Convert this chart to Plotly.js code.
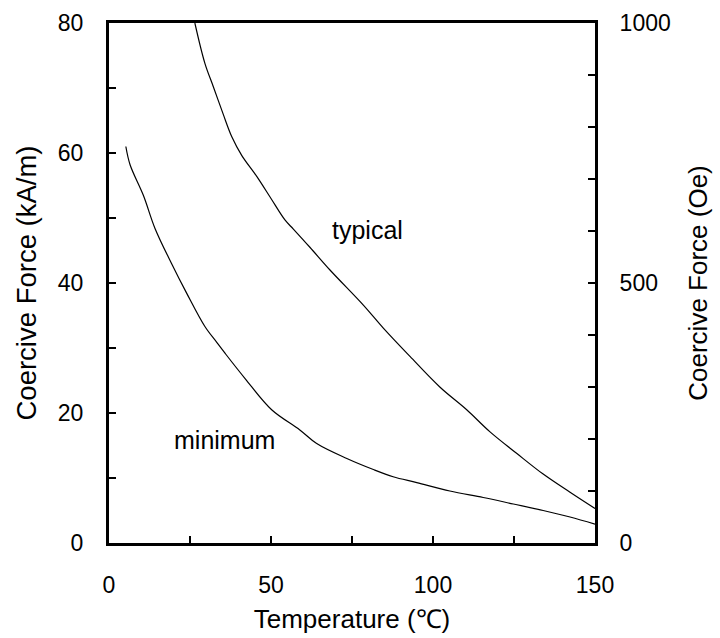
<!DOCTYPE html>
<html>
<head>
<meta charset="utf-8">
<script src="https://cdn.plot.ly/plotly-3.0.1.min.js"></script>
<style>html,body{margin:0;padding:0;background:#fff;}#chart{width:720px;height:638px;}</style>
</head>
<body>
<div id="chart"></div>
<script>
// Typical coercive force (kA/m) vs temperature (°C)
const typicalT = [26.5, 29.6, 32.2, 35.3, 37.9, 41.0, 45.6, 50.0, 54.3, 56.9, 62.0, 68.2, 78.5, 84.6, 92.9, 102.1, 110.4, 117.6, 125.8, 134.0, 142.3, 150];
const typicalV = [80, 73.8, 70.2, 65.9, 62.5, 59.6, 56.4, 53.0, 49.7, 48.3, 45.5, 42.0, 36.6, 33.1, 28.7, 24.0, 20.5, 17.1, 13.8, 10.6, 7.8, 5.3];
// Minimum coercive force (kA/m) vs temperature (°C)
const minimumT = [5.2, 6.5, 10.6, 14.2, 19.3, 24.0, 29.6, 33.2, 35.8, 42.0, 50.2, 58.9, 64.1, 73.4, 81.6, 87.7, 95.0, 105.2, 115.5, 124.8, 134.0, 142.3, 150];
const minimumV = [61.0, 58.2, 53.5, 48.4, 43.0, 38.4, 33.3, 30.9, 29.2, 25.3, 20.5, 17.4, 15.3, 13.0, 11.3, 10.2, 9.3, 8.0, 7.0, 6.0, 5.0, 4.0, 2.9];
// Curve labels
const labelText = ["typical", "minimum"];
const labelT = [79.8, 35.5];
const labelV = [48.2, 15.8];
// Axis ranges and titles
const xRange = [0, 150];
const yRange = [0, 80];
const y2Range = [0, 1000];
const xTitle = "Temperature (℃)";
const yTitle = "Coercive Force (kA/m)";
const y2Title = "Coercive Force (Oe)";

const fam = "Liberation Sans, Arial, sans-serif";
const tickFont = {family: fam, size: 23, color: "#000"};
const titleFont = {family: fam, size: 26, color: "#000"};
const leftTitleFont = {family: fam, size: 27.5, color: "#000"};
const labelFont = {family: fam, size: 25, color: "#000"};

const lineStyle = {color: "#000", width: 1.2, shape: "spline", smoothing: 1};
const data = [
  {x: typicalT, y: typicalV, mode: "lines", line: lineStyle, hoverinfo: "skip"},
  {x: minimumT, y: minimumV, mode: "lines", line: lineStyle, hoverinfo: "skip"},
  {x: [null], y: [null], yaxis: "y2", mode: "lines", hoverinfo: "skip"}
];

const tickStyle = {ticks: "inside", ticklen: 7, tickwidth: 1.2, tickcolor: "#000"};

const layout = {
  width: 720, height: 638,
  margin: {l: 109, r: 125, t: 23, b: 95},
  paper_bgcolor: "#fff", plot_bgcolor: "#fff",
  showlegend: false,
  font: tickFont,
  xaxis: Object.assign({
    range: xRange, dtick: 50, tick0: 0,
    minor: Object.assign({dtick: 25}, tickStyle),
    showline: true, linewidth: 3, linecolor: "#000", mirror: true,
    showgrid: false, zeroline: false,
    tickfont: tickFont,
    ticklabelstandoff: 19,
    title: {text: xTitle, font: titleFont, standoff: 14},
    automargin: false, fixedrange: true
  }, tickStyle),
  yaxis: Object.assign({
    range: yRange, dtick: 20, tick0: 0,
    minor: Object.assign({dtick: 10}, tickStyle),
    showline: true, linewidth: 3, linecolor: "#000",
    showgrid: false, zeroline: false,
    tickfont: tickFont,
    ticklabelstandoff: 18,
    title: {text: yTitle, font: leftTitleFont, standoff: 14},
    automargin: false, fixedrange: true
  }, tickStyle),
  yaxis2: Object.assign({
    overlaying: "y", side: "right",
    range: y2Range, dtick: 500, tick0: 0,
    minor: Object.assign({dtick: 100}, tickStyle),
    showline: true, linewidth: 3, linecolor: "#000",
    showgrid: false, zeroline: false,
    tickfont: tickFont,
    ticklabelstandoff: 17,
    title: {text: y2Title, font: titleFont, standoff: 20},
    automargin: false, fixedrange: true
  }, tickStyle),
  annotations: labelText.map((t, i) => ({
    x: labelT[i], y: labelV[i], xref: "x", yref: "y", text: t, showarrow: false, font: labelFont
  }))
};

Plotly.newPlot("chart", data, layout, {displayModeBar: false, staticPlot: true});
</script>
</body>
</html>
